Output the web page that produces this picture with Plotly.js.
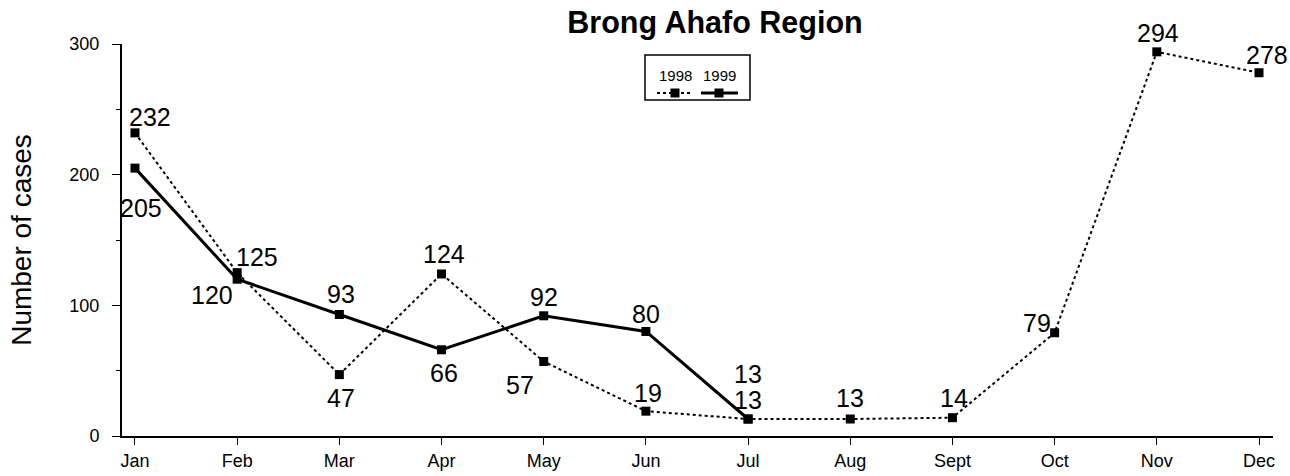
<!DOCTYPE html>
<html>
<head>
<meta charset="utf-8">
<script src="https://cdn.plot.ly/plotly-3.0.1.min.js"></script>
<style>html,body{margin:0;padding:0;background:#fff;}#chart{width:1290px;height:476px;}</style>
</head>
<body>
<div id="chart"></div>
<script>
// ---- data ----
const months = ["Jan","Feb","Mar","Apr","May","Jun","Jul","Aug","Sept","Oct","Nov","Dec"];
const cases1998 = [232,125,47,124,57,19,13,13,14,79,294,278];
const months1999 = ["Jan","Feb","Mar","Apr","May","Jun","Jul"];
const cases1999 = [205,120,93,66,92,80,13];
const seriesNames = ["1998","1999"];
const titleText = "Brong Ahafo Region";
const yTitle = "Number of cases";
const yTicks = [0,100,200,300];

// ---- label placement (pixel offsets, style only) ----
const off1998 = [[15,16],[20,16],[2,-23],[2,20],[-24,-23],[2,18],[0,19],[0,21],[2,20],[-18,10],[1,19],[8,18]];
const off1999 = [[6,-40],[-25,-16],[2,20],[2,-23],[0,19],[0,17],[0,45]];

const FONT = "Liberation Sans, Arial, sans-serif";
const labelFont = {family: FONT, size: 25, color: "#000"};

const traces = [
  {x: months, y: cases1998, name: seriesNames[0], type: "scatter", mode: "lines+markers",
   line: {color: "#000", width: 2, dash: "dot"}, marker: {symbol: "square", size: 9, color: "#000"},
   showlegend: false, hoverinfo: "x+y"},
  {x: months1999, y: cases1999, name: seriesNames[1], type: "scatter", mode: "lines+markers",
   line: {color: "#000", width: 3}, marker: {symbol: "square", size: 9, color: "#000"},
   showlegend: false, hoverinfo: "x+y"}
];

const annotations = [];
cases1998.forEach((v,i)=>annotations.push({x: months[i], y: v, xref:"x", yref:"y", text: String(v), showarrow:false,
  xanchor:"center", yanchor:"middle", xshift: off1998[i][0], yshift: off1998[i][1], font: labelFont}));
cases1999.forEach((v,i)=>annotations.push({x: months1999[i], y: v, xref:"x", yref:"y", text: String(v), showarrow:false,
  xanchor:"center", yanchor:"middle", xshift: off1999[i][0], yshift: off1999[i][1], font: labelFont}));

// custom legend (box with labels above line samples)
const W = 1151, H = 392, L = 122, T = 44;
const px = x => (x - L) / W;
const py = y => (T + H - y) / H;
annotations.push({xref:"paper", yref:"paper", x: px(675), y: py(75), text: seriesNames[0], showarrow:false,
  xanchor:"center", yanchor:"middle", font:{family: FONT, size: 15, color:"#000"}});
annotations.push({xref:"paper", yref:"paper", x: px(719), y: py(75), text: seriesNames[1], showarrow:false,
  xanchor:"center", yanchor:"middle", font:{family: FONT, size: 15, color:"#000"}});

const shapes = [
  {type:"rect", xref:"paper", yref:"paper", x0: px(645), x1: px(750), y0: py(100), y1: py(55),
   line:{color:"#000", width:1.5}, fillcolor:"rgba(0,0,0,0)"},
  {type:"line", xref:"paper", yref:"paper", x0: px(657), x1: px(693), y0: py(93), y1: py(93),
   line:{color:"#000", width:2, dash:"dot"}},
  {type:"line", xref:"paper", yref:"paper", x0: px(701), x1: px(738), y0: py(93), y1: py(93),
   line:{color:"#000", width:3}},
  {type:"rect", xref:"paper", yref:"paper", xsizemode:"pixel", ysizemode:"pixel",
   xanchor: px(675), yanchor: py(93), x0:-4.5, x1:4.5, y0:-4.5, y1:4.5, fillcolor:"#000", line:{width:0}},
  {type:"rect", xref:"paper", yref:"paper", xsizemode:"pixel", ysizemode:"pixel",
   xanchor: px(719), yanchor: py(93), x0:-4.5, x1:4.5, y0:-4.5, y1:4.5, fillcolor:"#000", line:{width:0}}
];

const layout = {
  width: 1290, height: 476,
  margin: {l: 122, r: 17, t: 44, b: 40},
  paper_bgcolor: "#fff", plot_bgcolor: "#fff",
  font: {family: FONT, color: "#000"},
  showlegend: false,
  title: {text: "<b>" + titleText + "</b>", x: px(715), xref: "paper", xanchor: "center",
          y: 1 - 22/476, yref: "container", yanchor: "middle", font: {family: FONT, size: 30.5, color: "#000"}},
  xaxis: {type: "category", categoryorder: "array", categoryarray: months,
          range: [-0.127, 11.137], showgrid: false, zeroline: false,
          showline: true, linecolor: "#000", linewidth: 2,
          ticks: "outside", ticklen: 7, tickwidth: 1, tickcolor: "#000",
          tickfont: {family: FONT, size: 18, color: "#000"}, fixedrange: true},
  yaxis: {range: [0, 300], tickvals: yTicks, ticktext: yTicks.map(String), showgrid: false, zeroline: false,
          showline: true, linecolor: "#000", linewidth: 2,
          ticks: "outside", ticklen: 8, tickwidth: 1, tickcolor: "#000",
          minor: {dtick: 50, tick0: 0, ticks: "outside", ticklen: 4, tickwidth: 1, tickcolor: "#000"},
          ticklabelstandoff: 9,
          tickfont: {family: FONT, size: 18, color: "#000"},
          title: {text: yTitle, font: {family: FONT, size: 28, color: "#000"}, standoff: 30},
          fixedrange: true},
  annotations: annotations,
  shapes: shapes
};

Plotly.newPlot("chart", traces, layout, {displayModeBar: false, staticPlot: true});
</script>
</body>
</html>
